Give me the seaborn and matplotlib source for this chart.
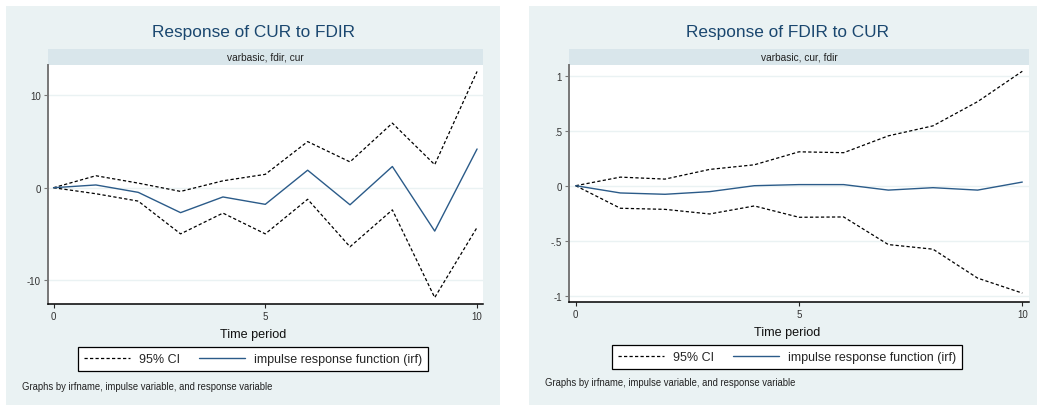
import numpy as np
import pandas as pd
import seaborn as sns
import matplotlib.pyplot as plt
from matplotlib.patches import Rectangle

# periods and irf values
steps = list(range(11))

cur_fdir_irf = [0, 0.3, -0.5, -2.7, -1.0, -1.8, 1.9, -1.85, 2.3, -4.7, 4.2]
cur_fdir_up = [0, 1.3, 0.5, -0.4, 0.75, 1.45, 5.0, 2.8, 7.0, 2.5, 12.6]
cur_fdir_lo = [0, -0.65, -1.45, -5.0, -2.75, -5.0, -1.25, -6.4, -2.4, -11.9, -4.3]

fdir_cur_irf = [0, -0.066, -0.078, -0.054, 0.0, 0.01, 0.01, -0.04, -0.018, -0.04, 0.033]
fdir_cur_up = [0, 0.078, 0.06, 0.148, 0.19, 0.308, 0.30, 0.453, 0.544, 0.764, 1.04]
fdir_cur_lo = [0, -0.205, -0.215, -0.257, -0.184, -0.287, -0.284, -0.535, -0.577, -0.84, -0.976]

titles = ["Response of CUR to FDIR", "Response of FDIR to CUR"]
strips = ["varbasic, fdir, cur", "varbasic, cur, fdir"]
yticks = [[-10, 0, 10], [-1, -0.5, 0, 0.5, 1]]
yticklabels = [["-10", "0", "10"], ["-1", "-.5", "0", ".5", "1"]]

sns.set_style("white")
plt.rcParams['font.family'] = ['Liberation Sans', 'DejaVu Sans']

BG = "#EAF2F3"
STRIP = "#D9E6EB"
NAVY = "#1A476F"
LINE = "#2B5B89"
W, H = 1037, 406

fig = plt.figure(figsize=(W / 100, H / 100), dpi=100)
fig.patch.set_facecolor("white")

def px(x0, y0, x1, y1):
    # pixel box (top-left origin) -> figure fraction rect
    return [x0 / W, (H - y1) / H, (x1 - x0) / W, (y1 - y0) / H]

# panel layout in pixels
panels = [
    dict(bg=(6, 7, 500, 406), ax=(48, 66, 483, 305), strip_top=50, tx=253, xlab_y=335,
         leg=(253, 360), note=(22, 387), ylim=(-12.6, 13.3), xlim=(-0.13, 10.14)),
    dict(bg=(529, 7, 1037, 406), ax=(569, 66, 1029, 303), strip_top=50, tx=787, xlab_y=333,
         leg=(787, 358), note=(545, 383), ylim=(-1.057, 1.097), xlim=(-0.15, 10.15)),
]
series = [(cur_fdir_irf, cur_fdir_up, cur_fdir_lo), (fdir_cur_irf, fdir_cur_up, fdir_cur_lo)]

for i, p in enumerate(panels):
    x0, y0, x1, y1 = p["bg"]
    r = px(x0, y0, x1, y1)
    fig.patches.append(Rectangle((r[0], r[1]), r[2], r[3], transform=fig.transFigure,
                                 facecolor=BG, edgecolor="none", zorder=-10))
    ax0, ay0, ax1, ay1 = p["ax"]
    r = px(ax0, p["strip_top"], ax1, ay0)
    fig.patches.append(Rectangle((r[0], r[1]), r[2], r[3], transform=fig.transFigure,
                                 facecolor=STRIP, edgecolor="none", zorder=-9))
    fig.text((ax0 + ax1) / 2 / W, 1 - (p["strip_top"] + ay0) / 2 / H, strips[i],
             ha="center", va="center", fontsize=7.3, color="#222222")
    fig.text(p["tx"] / W, 1 - 32 / H, titles[i], ha="center", va="center",
             fontsize=12.4, color=NAVY)

    ax = fig.add_axes(px(ax0, ay0, ax1, ay1))
    ax.set_facecolor("white")
    irf, up, lo = series[i]
    df = pd.DataFrame({"step": steps, "irf": irf, "up": up, "lo": lo})
    sns.lineplot(data=df, x="step", y="up", ax=ax, color="black", lw=0.9,
                 linestyle=(0, (2.6, 1.8)))
    sns.lineplot(data=df, x="step", y="lo", ax=ax, color="black", lw=0.9,
                 linestyle=(0, (2.6, 1.8)), label="95% CI")
    sns.lineplot(data=df, x="step", y="irf", ax=ax, color=LINE, lw=1.0,
                 label="impulse response function (irf)")

    ax.set_xlim(*p["xlim"])
    ax.set_ylim(*p["ylim"])
    ax.set_xticks([0, 5, 10])
    ax.set_yticks(yticks[i])
    ax.set_yticklabels(yticklabels[i])
    for yv in yticks[i]:
        ax.axhline(yv, color=BG, lw=1, zorder=0)
    ax.tick_params(axis="both", direction="out", length=3, width=0.8, labelsize=7,
                   colors="#333333", pad=2, left=True, bottom=True)
    ax.tick_params(axis="y", color="#777777")
    ax.tick_params(axis="x", color="#222222")
    for s in ["top", "right"]:
        ax.spines[s].set_visible(False)
    ax.spines["left"].set_color("#777777")
    ax.spines["left"].set_linewidth(1.4)
    ax.spines["bottom"].set_color("black")
    ax.spines["bottom"].set_linewidth(1.1)
    ax.set_xlabel("")
    ax.set_ylabel("")

    fig.text(p["tx"] / W, 1 - p["xlab_y"] / H, "Time period", ha="center", va="center",
             fontsize=9.1, color="#111111")

    handles, labels = ax.get_legend_handles_labels()
    ax.get_legend().remove()
    leg = fig.legend(handles, labels, loc="center", ncol=2,
                     bbox_to_anchor=(p["leg"][0] / W, 1 - p["leg"][1] / H),
                     frameon=True, fancybox=False, framealpha=1, fontsize=9,
                     handlelength=3.7, columnspacing=1.5, handletextpad=0.7,
                     borderpad=0.45)
    leg.get_frame().set_edgecolor("black")
    leg.get_frame().set_linewidth(0.9)
    leg.get_frame().set_facecolor("white")

    fig.text(p["note"][0] / W, 1 - p["note"][1] / H,
             "Graphs by irfname, impulse variable, and response variable",
             ha="left", va="center", fontsize=6.85, color="#222222")

fig.savefig("out.png", dpi=100)
